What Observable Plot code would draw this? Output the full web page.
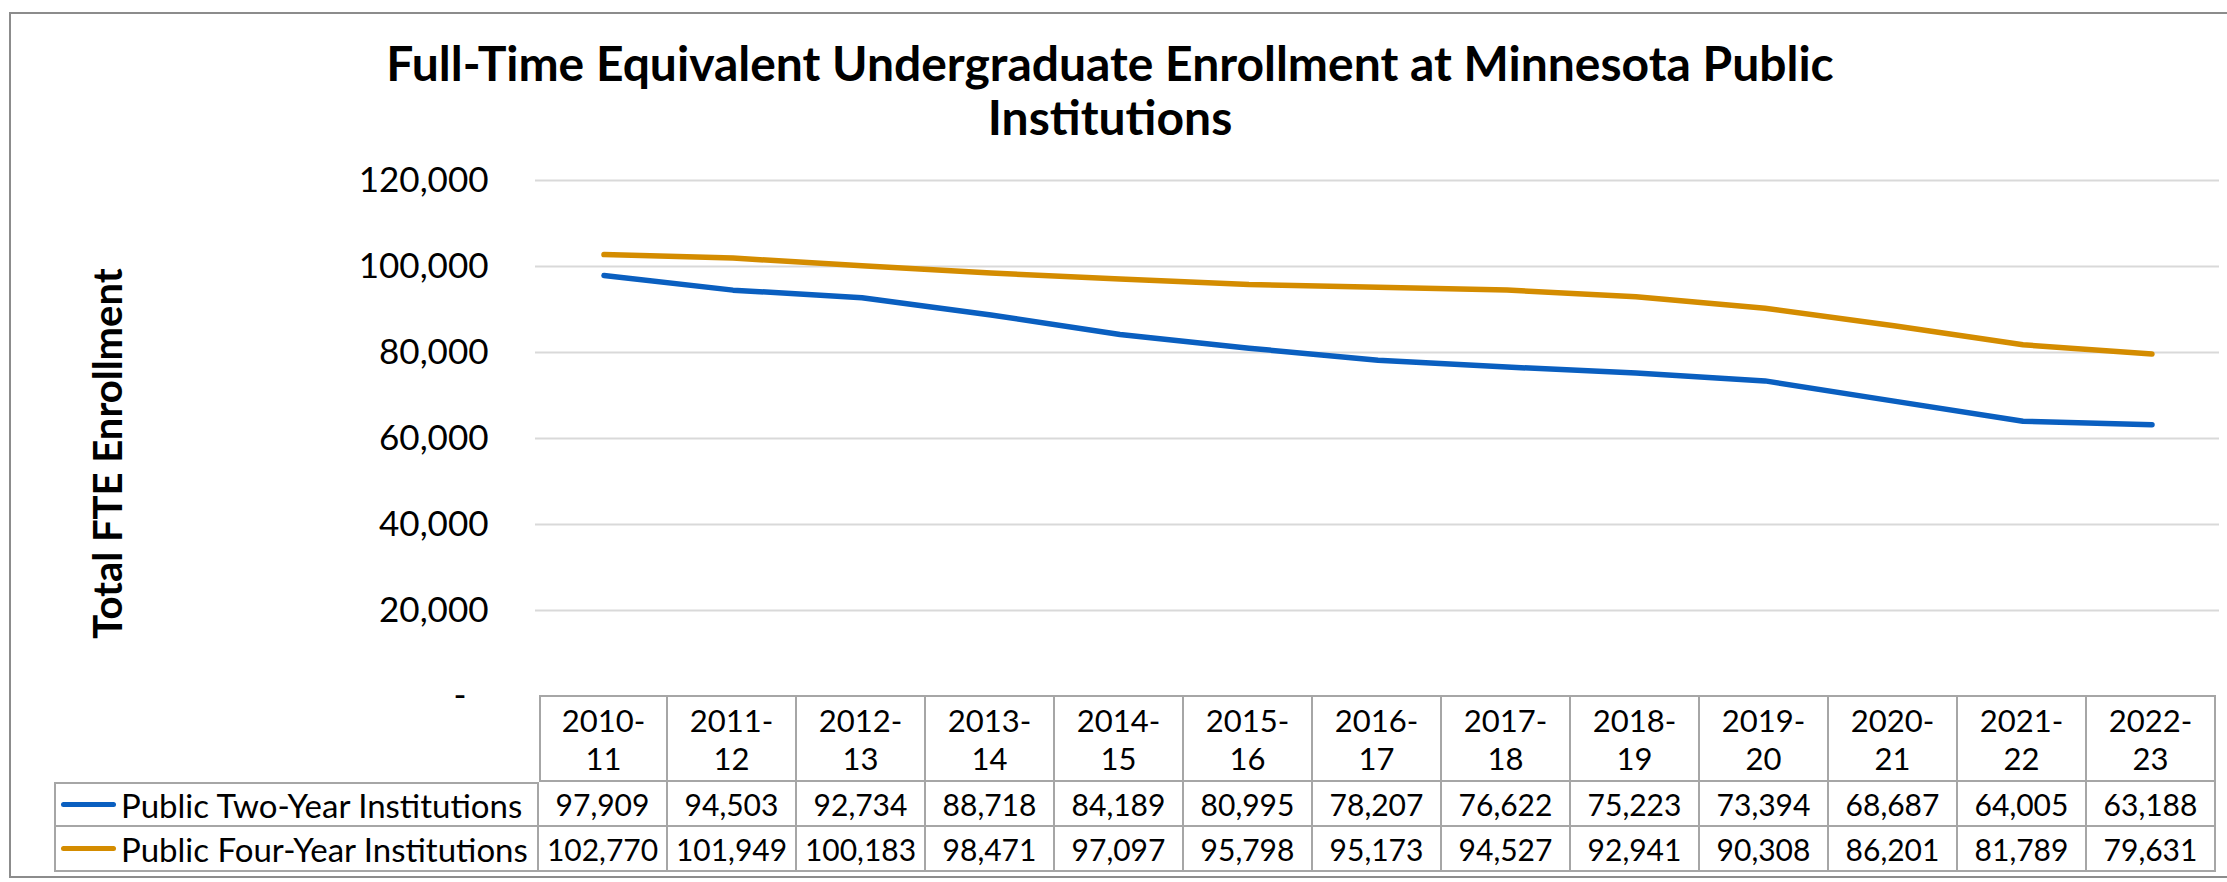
<!DOCTYPE html>
<html>
<head>
<meta charset="utf-8">
<script src="https://cdn.jsdelivr.net/npm/d3@7"></script>
<script src="https://cdn.jsdelivr.net/npm/@observablehq/plot@0.6"></script>
<style>
  html, body { margin: 0; padding: 0; background: #fff; }
  body { width: 2227px; height: 882px; position: relative; overflow: hidden; font-family: Lato, "Open Sans", sans-serif; color: #000; }
  #frame { position: absolute; left: 9px; top: 12px; width: 2240px; height: 866px; border: 2px solid #8c8c8c; box-sizing: border-box; }
  #title { position: absolute; left: 0; top: 36px; width: 2220px; text-align: center; font-weight: bold; font-size: 48px; line-height: 54px; }
  #chart { position: absolute; left: 0; top: 150px; }
  .cell { position: absolute; box-sizing: border-box; border-color: #a6a6a6; border-style: solid; border-width: 0 2px 2px 0; display: flex; align-items: center; justify-content: center; text-align: center; font-size: 30px; line-height: 38px; white-space: nowrap; }
  .hdr { font-size: 31px; }
  .lbl { font-size: 33px; }
</style>
</head>
<body>
<div id="frame"></div>
<div id="title">Full-Time Equivalent Undergraduate Enrollment at Minnesota Public<br>Institutions</div>
<div id="chart"></div>
<div id="table"></div>
<script>
const years = ["2010-11","2011-12","2012-13","2013-14","2014-15","2015-16","2016-17","2017-18","2018-19","2019-20","2020-21","2021-22","2022-23"];
const seriesNames = ["Public Two-Year Institutions", "Public Four-Year Institutions"];
const twoYear = [97909, 94503, 92734, 88718, 84189, 80995, 78207, 76622, 75223, 73394, 68687, 64005, 63188];
const fourYear = [102770, 101949, 100183, 98471, 97097, 95798, 95173, 94527, 92941, 90308, 86201, 81789, 79631];
const yTicks = [0, 20000, 40000, 60000, 80000, 100000, 120000];
const colors = ["#0a5fc0", "#d48c00"];
const yLabel = "Total FTE Enrollment";

const seriesValues = [twoYear, fourYear];
const data = seriesNames.flatMap((s, k) => years.map((y, i) => ({year: y, series: s, value: seriesValues[k][i]})));
const fmt = d3.format(",");

const plot = Plot.plot({
  width: 2227,
  height: 600,
  marginTop: 30,
  marginBottom: 54,
  marginLeft: 535,
  marginRight: 8,
  style: {fontFamily: "Lato, 'Open Sans', sans-serif", background: "transparent", color: "#000"},
  x: {type: "band", domain: years, padding: 0, axis: null},
  y: {domain: [0, 120000], axis: null},
  color: {domain: seriesNames, range: colors},
  marks: [
    Plot.gridY(yTicks.filter(d => d > 0), {stroke: "#d9d9d9", strokeOpacity: 1, strokeWidth: 2}),
    Plot.axisY(yTicks.filter(d => d > 0), {tickSize: 0, tickPadding: 47, fontSize: 35, tickFormat: fmt, fill: "#000", label: null}),
    Plot.text(yTicks.filter(d => d === 0), {y: d => d, text: () => "-", frameAnchor: "left", textAnchor: "end", dx: -69, dy: -1, fontSize: 35, fill: "#000"}),
    Plot.lineY(data, {x: "year", y: "value", z: "series", stroke: "series", strokeWidth: 5.5, strokeLinecap: "round", strokeLinejoin: "round"}),
    Plot.text([yLabel], {text: d => d, frameAnchor: "left", textAnchor: "middle", lineAnchor: "middle", dx: -426, dy: 15, rotate: -90, fontWeight: "bold", fontSize: 40, fill: "#000"})
  ]
});
document.getElementById("chart").appendChild(plot);

// Data table aligned with the plot's x scale
const xs = plot.scale("x");
const bw = xs.bandwidth;
const table = document.getElementById("table");
const top0 = 695, headerH = 87, rowH = 45, labelLeft = 54;
function cell(left, top, w, h, html, extra, cls) {
  const d = document.createElement("div");
  d.className = "cell" + (cls ? " " + cls : "");
  d.style.left = left + "px"; d.style.top = top + "px";
  d.style.width = w + "px"; d.style.height = h + "px";
  Object.assign(d.style, extra || {});
  d.innerHTML = html;
  table.appendChild(d);
  return d;
}
years.forEach((y, i) => {
  const left = xs.apply(y);
  const parts = y.split("-");
  cell(left, top0, bw, headerH, parts[0] + "-<br>" + parts[1], {borderTopWidth: "2px", borderLeftWidth: i === 0 ? "2px" : "0"}, "hdr");
});
seriesNames.forEach((s, k) => {
  const top = top0 + headerH + k * rowH;
  const x0 = xs.apply(years[0]);
  const lc = cell(labelLeft, top, x0 - labelLeft, rowH, "", {borderLeftWidth: "2px", borderTopWidth: k === 0 ? "2px" : "0", justifyContent: "flex-start"}, "lbl");
  const sw = document.createElement("span");
  Object.assign(sw.style, {display: "inline-block", width: "55px", height: "5px", borderRadius: "3px", background: colors[k], marginLeft: "5px", marginRight: "5px"});
  lc.appendChild(sw);
  const tx = document.createElement("span");
  tx.textContent = s;
  lc.appendChild(tx);
  years.forEach((y, i) => {
    cell(xs.apply(y), top, bw, rowH, fmt(seriesValues[k][i]));
  });
});
</script>
</body>
</html>
